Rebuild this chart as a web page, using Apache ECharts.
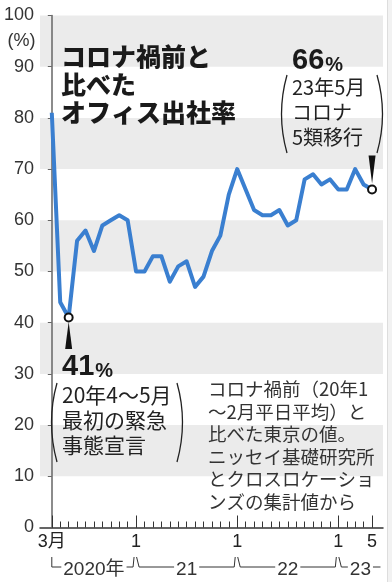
<!DOCTYPE html>
<html><head><meta charset="utf-8">
<script src="https://cdn.jsdelivr.net/npm/echarts@6/dist/echarts.min.js"></script>
<style>html,body{margin:0;padding:0;background:#fff}#c{width:392px;height:582px}</style>
</head><body><div id="c"></div>
<script>
// ---- data ----
const months = ['2020/3','2020/4','2020/5','2020/6','2020/7','2020/8','2020/9','2020/10','2020/11','2020/12',
  '2021/1','2021/2','2021/3','2021/4','2021/5','2021/6','2021/7','2021/8','2021/9','2021/10','2021/11','2021/12',
  '2022/1','2022/2','2022/3','2022/4','2022/5','2022/6','2022/7','2022/8','2022/9','2022/10','2022/11','2022/12',
  '2023/1','2023/2','2023/3','2023/4','2023/5'];
const values = [81,44,41,56,58,54,59,60,61,60,
  50,50,53,53,48,51,52,47,49,54,57,65,
  70,66,62,61,61,62,59,60,68,69,67,68,
  66,66,70,67,66];
const xTickIdx = [0,10,22,34,38];
const xTickLabels = ['3月','1','1','1','5'];
const yearLabels = ['2020年','21','22','23'];
const yearStart = [0,10,22,34];
const yearEnd = [10,22,34,39];
const annIdx = [2,38];

const LAT = "'Liberation Sans','Noto Sans CJK JP',sans-serif";
const JP = "'Noto Sans CJK JP',sans-serif";
const monthIdx = months.map((m,i)=>i);
const seriesData = values.map((v,i)=>[i,v]);

const chart = echarts.init(document.getElementById('c'), null, {renderer:'canvas'});

const option = {
  backgroundColor:'#fff',
  animation:false,
  grid:{left:40, right:9, top:15.5, bottom:54.5, containLabel:false},
  xAxis:[
    {type:'value', min:-1.4, max:39.3,
     axisLine:{show:true, lineStyle:{color:'#333', width:1.5}},
     axisTick:{show:true, inside:true, length:6, customValues:monthIdx, lineStyle:{color:'#333', width:1}},
     axisLabel:{show:false}, splitLine:{show:false}},
    {type:'value', min:-1.4, max:39.3, position:'bottom',
     axisLine:{show:false},
     axisTick:{show:true, inside:true, length:12, customValues:xTickIdx, lineStyle:{color:'#333', width:1}},
     axisLabel:{show:true, customValues:xTickIdx, margin:6, fontSize:18, color:'#222', fontFamily:LAT,
       formatter:v=>xTickLabels[xTickIdx.indexOf(Math.round(v))]},
     splitLine:{show:false}}
  ],
  yAxis:{type:'value', min:0, max:100, interval:10,
    axisLine:{show:true, lineStyle:{color:'#666', width:1.5}},
    axisTick:{show:true, length:4, lineStyle:{color:'#666'}},
    axisLabel:{fontSize:18, color:'#333', margin:6, fontFamily:LAT},
    splitLine:{show:false},
    splitArea:{show:true, areaStyle:{color:['rgba(255,255,255,0)','#ebebeb']}}
  },
  series:[{
    type:'line', data:seriesData, xAxisIndex:0, symbol:'none', smooth:false,
    lineStyle:{color:'#3a7fd0', width:4, join:'round'},
    markPoint:{silent:true, label:{show:false}, animation:false,
      data:[
        {coord:[annIdx[0], values[annIdx[0]]], symbol:'triangle', symbolSize:[7,27], symbolOffset:[0,18], itemStyle:{color:'#111'}},
        {coord:[annIdx[1], values[annIdx[1]]], symbol:'path://M0,0L10,0L5,40Z', symbolSize:[7,28], symbolOffset:[0,-20], itemStyle:{color:'#111'}},
        {coord:[annIdx[0], values[annIdx[0]]], symbol:'circle', symbolSize:8, itemStyle:{color:'#fff', borderColor:'#111', borderWidth:2}},
        {coord:[annIdx[1], values[annIdx[1]]], symbol:'circle', symbolSize:8, itemStyle:{color:'#fff', borderColor:'#111', borderWidth:2}}
      ]}
  }]
};
chart.setOption(option);

const g = [];
const Z = 100;
// right frame strip
g.push({type:'rect', z:Z, shape:{x:387, y:0, width:5, height:582}, style:{fill:'#f2f2f2'}, silent:true});
g.push({type:'line', z:Z, shape:{x1:387.5, y1:0, x2:387.5, y2:582}, style:{stroke:'#ddd', lineWidth:1}, silent:true});
// (%)
g.push({type:'text', z:Z, style:{x:21.5, y:41, text:'(%)', align:'center', verticalAlign:'middle', font:"18px "+LAT, fill:'#333'}});
// title
g.push({type:'text', z:Z, style:{x:61, y:42, text:'コロナ禍前と\n比べた\nオフィス出社率', font:"900 25px "+JP, lineHeight:28, fill:'#1a1a1a'}});
// 66% annotation
g.push({type:'text', z:Z, style:{x:292, y:61, text:'{a|66}{b|%}', verticalAlign:'middle',
  rich:{a:{font:"bold 29px "+LAT, fill:'#1a1a1a', verticalAlign:'bottom', lineHeight:30}, b:{font:"bold 20px "+LAT, fill:'#1a1a1a', verticalAlign:'bottom', lineHeight:30, padding:[0,0,1,1]}}}});
g.push({type:'text', z:Z, style:{x:292, y:74.5, text:'23年5月\nコロナ\n5類移行', font:"20px "+JP, lineHeight:25, fill:'#222'}});
g.push({type:'bezierCurve', z:Z, shape:{x1:287, y1:75, cpx1:276, cpy1:114, x2:287, y2:153}, style:{stroke:'#222', lineWidth:1.3, fill:null}});
g.push({type:'bezierCurve', z:Z, shape:{x1:377, y1:75, cpx1:388, cpy1:114, x2:377, y2:153}, style:{stroke:'#222', lineWidth:1.3, fill:null}});
// 41% annotation
g.push({type:'text', z:Z, style:{x:62, y:367, text:'{a|41}{b|%}', verticalAlign:'middle',
  rich:{a:{font:"bold 29px "+LAT, fill:'#1a1a1a', verticalAlign:'bottom', lineHeight:30}, b:{font:"bold 20px "+LAT, fill:'#1a1a1a', verticalAlign:'bottom', lineHeight:30, padding:[0,0,1,1]}}}});
g.push({type:'text', z:Z, style:{x:62, y:382.5, text:'20年4～5月\n最初の緊急\n事態宣言', font:"21px "+JP, lineHeight:25, fill:'#222'}});
g.push({type:'bezierCurve', z:Z, shape:{x1:57, y1:383, cpx1:46, cpy1:422, x2:57, y2:462}, style:{stroke:'#222', lineWidth:1.3, fill:null}});
g.push({type:'bezierCurve', z:Z, shape:{x1:177, y1:383, cpx1:188, cpy1:422, x2:177, y2:462}, style:{stroke:'#222', lineWidth:1.3, fill:null}});
// note
g.push({type:'text', z:Z, style:{x:208, y:378, text:'コロナ禍前（20年1\n～2月平日平均）と\n比べた東京の値。\nニッセイ基礎研究所\nとクロスロケーショ\nンズの集計値から', font:"18.5px "+JP, lineHeight:22.5, fill:'#333'}});

// year brackets aligned to the axis
const yTop = 557, yBot = 567;
yearLabels.forEach((lab, s) => {
  const xs = chart.convertToPixel({xAxisIndex:0}, yearStart[s]);
  const xe = chart.convertToPixel({xAxisIndex:0}, yearEnd[s]);
  const pts = [];
  if (s === 0) { pts.push([xs, yTop], [xs, yBot]); }
  else { pts.push([xs+0.5, yTop], [xs+3, yBot]); }
  if (s < yearLabels.length - 1) { pts.push([xe-3, yBot], [xe-2, yTop]); }
  else { pts.push([xe, yBot]); }
  g.push({type:'polyline', z:Z, shape:{points:pts}, style:{stroke:'#333', lineWidth:1, fill:null}});
  g.push({type:'text', z:Z+1, style:{x:(xs+xe)/2 + (s===3 ? 1 : 0), y:570, text:lab, align:'center', verticalAlign:'middle',
    font:"19px "+LAT, fill:'#333', backgroundColor:'#fff', padding:[0,2]}});
});
chart.setOption({graphic:g});
</script></body></html>
